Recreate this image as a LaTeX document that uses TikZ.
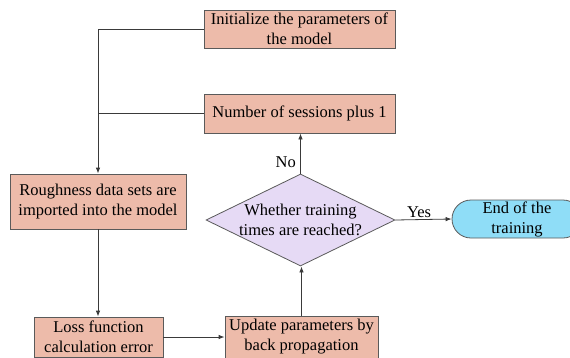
\documentclass[tikz,border=0pt]{standalone}
\usepackage{fontspec}
\setmainfont{Liberation Serif}
\usetikzlibrary{shapes.geometric,shapes.misc,arrows.meta}
\definecolor{salmon}{HTML}{EDBBAA}
\definecolor{lav}{HTML}{E6DAF5}
\definecolor{sky}{HTML}{8FDDF7}
\definecolor{edge}{HTML}{5A5A5A}
\definecolor{wire}{HTML}{3A3A3A}
\begin{document}
\begin{tikzpicture}[x=1pt,y=-1pt,
  every node/.style={font=\fontsize{16.5}{20}\selectfont, text=black},
  procbox/.style={draw=edge, fill=salmon, line width=0.8pt, inner sep=0pt, align=center},
  decbox/.style={draw=edge, fill=lav, line width=0.8pt, diamond, inner sep=0pt, minimum width=189pt, minimum height=92pt},
  termbox/.style={draw=edge, fill=sky, line width=0.8pt, rounded rectangle, inner sep=0pt, align=center, minimum width=130pt, minimum height=38pt},
  conn/.style={draw=wire, line width=0.8pt},
  arr/.style={conn, -{Latex[length=6pt,width=4.5pt]}},
  lbl/.style={inner sep=0pt}
]
\useasboundingbox (0,0) rectangle (570,357);

\node[procbox, minimum width=191pt, minimum height=38pt] (init) at (299.5,29) {Initialize the parameters of\\the model};
\node[procbox, minimum width=191pt, minimum height=39pt] (num) at (299.5,113.5) {Number of sessions plus 1};
\node[procbox, minimum width=176pt, minimum height=55pt] (rough) at (98,201.5) {Roughness data sets are\\imported into the model};
\node[procbox, minimum width=129pt, minimum height=40pt] (loss) at (98.5,337) {Loss function\\calculation error};
\node[procbox, minimum width=153pt, minimum height=42pt] (upd) at (301.5,337) {Update parameters by\\back propagation};
\node[decbox] (dec) at (300.5,220) {};
\node[lbl, align=center] (dectext) at (300.5,220) {Whether training\\times are reached?};
\node[termbox] (term) at (517,219) {End of the\\training};

\draw[arr] (init.west) -| (rough.north);
\draw[conn] (num.west) -- (num.west -| rough.north);
\draw[arr] (rough.south) -- (rough.south |- loss.north);
\draw[arr] (loss.east) -- (loss.east -| upd.west);
\draw[arr] (upd.north) -- (upd.north |- dec.south);
\draw[arr] (dec.north) -- (dec.north |- num.south);
\draw[arr] (dec.east) -- (term.west);

\coordinate (nopos) at (296,162);
\node[lbl, anchor=east] (nolbl) at (nopos) {No};
\coordinate (yespos) at (419,212);
\node[lbl] (yeslbl) at (yespos) {Yes};
\end{tikzpicture}
\end{document}
